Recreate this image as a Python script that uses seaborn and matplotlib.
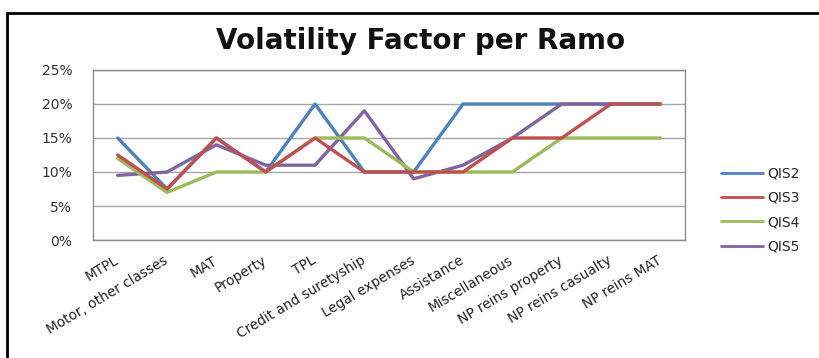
import matplotlib
matplotlib.use("Agg")
import matplotlib.pyplot as plt
import seaborn as sns
import pandas as pd
from matplotlib.patches import Rectangle
from matplotlib.ticker import FuncFormatter

categories = ["MTPL", "Motor, other classes", "MAT", "Property", "TPL",
              "Credit and suretyship", "Legal expenses", "Assistance",
              "Miscellaneous", "NP reins property", "NP reins casualty",
              "NP reins MAT"]
qis2 = [15, 7.5, 15, 10, 20, 10, 10, 20, 20, 20, 20, 20]
qis3 = [12.5, 7.5, 15, 10, 15, 10, 10, 10, 15, 15, 20, 20]
qis4 = [12, 7, 10, 10, 15, 15, 10, 10, 10, 15, 15, 15]
qis5 = [9.5, 10, 14, 11, 11, 19, 9, 11, 15, 20, 20, 20]
series_names = ["QIS2", "QIS3", "QIS4", "QIS5"]
yticks = [0, 5, 10, 15, 20, 25]

rows = []
for name, vals in zip(series_names, [qis2, qis3, qis4, qis5]):
    for i, (cat, v) in enumerate(zip(categories, vals)):
        rows.append({"pos": i, "Ramo": cat, "Serie": name, "Valore": v})
df = pd.DataFrame(rows)

sns.set_theme(style="white")
plt.rcParams["font.family"] = ["DejaVu Sans"]

palette = {"QIS2": "#4F81BD", "QIS3": "#C0504D", "QIS4": "#9BBB59", "QIS5": "#8064A2"}

fig = plt.figure(figsize=(8.19, 3.58), dpi=100)
ax = fig.add_axes([0.1136, 0.3296, 0.7228, 0.4749])

# draw order: purple and green under red so red sits on top
for name in ["QIS2", "QIS5", "QIS4", "QIS3"]:
    sub = df[df["Serie"] == name]
    sns.lineplot(data=sub, x="pos", y="Valore", color=palette[name],
                 linewidth=2.4, ax=ax, legend=False, label=name)

ax.set_xlim(-0.5, len(categories) - 0.5)
ax.set_ylim(0, 25)
ax.set_yticks(yticks)
ax.yaxis.set_major_formatter(FuncFormatter(lambda v, p: f"{int(v)}%"))
ax.set_xticks(range(len(categories)))
ax.set_xticklabels(categories, rotation=31, ha="right", va="center",
                   rotation_mode="anchor", fontsize=9.8, color="#222222")
ax.tick_params(axis="y", labelsize=10, colors="#333333", length=0, pad=15)
ax.tick_params(axis="x", length=0, pad=14)
ax.set_xlabel("")
ax.set_ylabel("")
ax.yaxis.grid(True, color="#A6A6A6", linewidth=1)
ax.set_axisbelow(True)
for s in ax.spines.values():
    s.set_color("#8C8C8C")
    s.set_linewidth(1)

fig.text(0.513, 0.885, "Volatility Factor per Ramo", ha="center", va="center",
         fontsize=20, fontweight="bold", color="#111111")

handles = [plt.Line2D([], [], color=palette[n], linewidth=2) for n in series_names]
fig.legend(handles, series_names, loc="center left", bbox_to_anchor=(0.865, 0.413),
           frameon=False, fontsize=10, handlelength=3.0, labelspacing=0.75,
           handletextpad=0.3)

fig.add_artist(Rectangle((7 / 819, -0.1), 1.2, 1 - 13 / 358 + 0.1,
                         transform=fig.transFigure, fill=False,
                         edgecolor="black", linewidth=2))

fig.savefig("out.png", dpi=100)
